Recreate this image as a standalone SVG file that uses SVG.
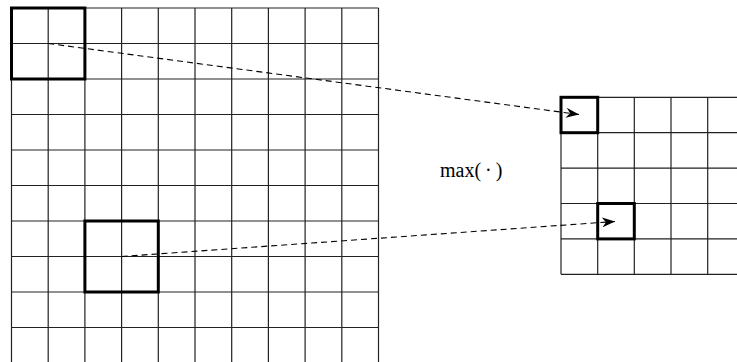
<svg xmlns="http://www.w3.org/2000/svg" width="737" height="362" viewBox="0 0 737 362">
<defs>
<style>
.g{stroke:#222;stroke-width:1.2;fill:none}
.t{stroke:#000;stroke-width:3;fill:none}
.d{stroke:#000;stroke-width:1.1;fill:none;stroke-dasharray:6 4}
.lbl{font-family:"Liberation Serif",serif;font-size:20px;fill:#000}
</style>
<marker id="ah" viewBox="0 0 13 10" refX="13" refY="5" markerWidth="13" markerHeight="10" markerUnits="userSpaceOnUse" orient="auto">
<path d="M0,0 L13,5 L0,10 L4,5 Z" fill="#000"/>
</marker>
</defs>
<rect width="737" height="362" fill="#fff"/>
<g id="input-grid">
<path class="g" d="M11.5,8 V362 M48.2,8 V362 M84.9,8 V362 M121.6,8 V362 M158.3,8 V362 M195,8 V362 M231.7,8 V362 M268.4,8 V362 M305.1,8 V362 M341.8,8 V362 M378.5,8 V362
M11.5,8 H378.5 M11.5,43.5 H378.5 M11.5,79 H378.5 M11.5,114.5 H378.5 M11.5,150 H378.5 M11.5,185.5 H378.5 M11.5,221 H378.5 M11.5,256.5 H378.5 M11.5,292 H378.5 M11.5,327.5 H378.5"/>
<rect class="t" x="11.5" y="8" width="73.4" height="71"/>
<rect class="t" x="84.9" y="221" width="73.4" height="71"/>
</g>
<g id="output-grid">
<path class="g" d="M561,97.3 V274.3 M597.7,97.3 V274.3 M634.3,97.3 V274.3 M671,97.3 V274.3 M707.7,97.3 V274.3
M561,97.3 H737 M561,132.7 H737 M561,168.1 H737 M561,203.5 H737 M561,238.9 H737 M561,274.3 H737"/>
<rect class="t" x="561" y="97.3" width="36.7" height="35.4"/>
<rect class="t" x="597.7" y="203.5" width="36.6" height="35.4"/>
</g>
<g id="label">
<text class="lbl" x="440" y="177">max(<tspan dx="4">·</tspan><tspan dx="4">)</tspan></text>
</g>
<g id="connectors">
<path class="d" d="M48.2,43.5 L579,114.5" marker-end="url(#ah)"/>
<path class="d" d="M121.6,256.5 L615,221.5" marker-end="url(#ah)"/>
</g>
</svg>
